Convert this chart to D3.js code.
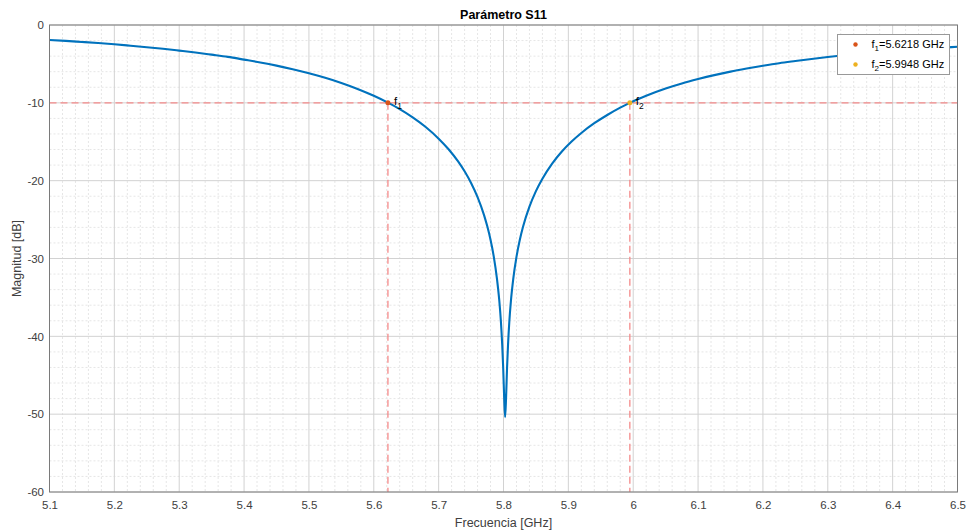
<!DOCTYPE html>
<html>
<head>
<meta charset="utf-8">
<script src="https://cdn.jsdelivr.net/npm/d3@7"></script>
<style>
body { margin: 0; background: #fff; }
svg { font-family: "Liberation Sans", Arial, sans-serif; }
</style>
</head>
<body>
<div id="graph1"></div>
<script>
// S11 magnitude (GHz, dB)
const freq = [5.100, 5.125, 5.150, 5.175, 5.200, 5.225, 5.250, 5.275, 5.300, 5.325,
	5.350, 5.375, 5.400, 5.425, 5.450, 5.475, 5.500, 5.525, 5.550, 5.575,
	5.600, 5.6218, 5.640, 5.660, 5.680, 5.700, 5.715, 5.730, 5.740, 5.750,
	5.760, 5.770, 5.775, 5.780, 5.785, 5.790, 5.7935, 5.796, 5.798, 5.7995,
	5.801, 5.8025, 5.804, 5.8055, 5.807, 5.809, 5.8115, 5.815, 5.820, 5.825,
	5.830, 5.840, 5.850, 5.860, 5.875, 5.890, 5.905, 5.920, 5.940, 5.960,
	5.980, 5.9948, 6.020, 6.050, 6.075, 6.100, 6.125, 6.150, 6.175, 6.200,
	6.225, 6.250, 6.275, 6.300, 6.325, 6.350, 6.375, 6.400, 6.425, 6.450,
	6.475, 6.500];
const s11 = [-1.92, -2.04, -2.18, -2.32, -2.48, -2.66, -2.85, -3.06, -3.29, -3.53,
	-3.81, -4.10, -4.45, -4.81, -5.22, -5.69, -6.21, -6.79, -7.45, -8.22,
	-9.10, -9.98, -10.81, -11.87, -13.11, -14.60, -15.93, -17.53, -18.80, -20.30,
	-22.11, -24.42, -25.87, -27.59, -29.75, -32.65, -35.4, -38.1, -41.06, -44.0,
	-47.8, -50.4, -47.8, -44.0, -41.06, -38.1, -35.4, -32.65, -29.8, -27.66,
	-25.96, -23.34, -21.34, -19.75, -17.81, -16.25, -14.97, -13.87, -12.62, -11.56,
	-10.62, -10.0, -9.09, -8.16, -7.51, -6.95, -6.44, -5.99, -5.60, -5.24,
	-4.91, -4.63, -4.36, -4.11, -3.89, -3.70, -3.51, -3.36, -3.20, -3.05,
	-2.92, -2.80];

// Marked -10 dB crossings
const markFreq = [5.6218, 5.9948];
const markLevel = -10;
const markNames = ["1", "2"];
const markColors = ["#D95319", "#EDB120"];

// Axes ticks
const xTicks = [5.1, 5.2, 5.3, 5.4, 5.5, 5.6, 5.7, 5.8, 5.9, 6.0, 6.1, 6.2, 6.3, 6.4, 6.5];
const xTickLabels = ["5.1", "5.2", "5.3", "5.4", "5.5", "5.6", "5.7", "5.8", "5.9", "6", "6.1", "6.2", "6.3", "6.4", "6.5"];
const yTicks = [0, -10, -20, -30, -40, -50, -60];
const yTickLabels = ["0", "-10", "-20", "-30", "-40", "-50", "-60"];

const width = 968, height = 531;
const margin = {top: 25, right: 10.5, bottom: 39, left: 49.5};
let plot_w = width - margin.left - margin.right;
let plot_h = height - margin.top - margin.bottom;

let svg = d3.select("#graph1")
	.append("svg")
	.attr("width", width)
	.attr("height", height)
	.append("g")
	.attr("transform", "translate(" + margin.left + "," + margin.top + ")");

let x = d3.scaleLinear().domain([5.1, 6.5]).range([0, plot_w]);
let y = d3.scaleLinear().domain([-60, 0]).range([plot_h, 0]);

// Minor grid
let minorX = d3.range(5.1, 6.5001, 0.02).filter(function(v) {return Math.abs(Math.round(v * 10) - v * 10) > 0.01});
let minorY = d3.range(-60, 0.001, 2).filter(function(v) {return v % 10 != 0});

svg.append("g").selectAll("line").data(minorX).enter().append("line")
	.attr("x1", function(d) {return x(d)}).attr("x2", function(d) {return x(d)})
	.attr("y1", 0).attr("y2", plot_h)
	.attr("stroke", "#e6e6e6").attr("stroke-dasharray", "2,2");

svg.append("g").selectAll("line").data(minorY).enter().append("line")
	.attr("y1", function(d) {return y(d)}).attr("y2", function(d) {return y(d)})
	.attr("x1", 0).attr("x2", plot_w)
	.attr("stroke", "#e6e6e6").attr("stroke-dasharray", "2,2");

// Major grid
svg.append("g").selectAll("line").data(xTicks).enter().append("line")
	.attr("x1", function(d) {return x(d)}).attr("x2", function(d) {return x(d)})
	.attr("y1", 0).attr("y2", plot_h)
	.attr("stroke", "#d2d2d2");

svg.append("g").selectAll("line").data(yTicks).enter().append("line")
	.attr("y1", function(d) {return y(d)}).attr("y2", function(d) {return y(d)})
	.attr("x1", 0).attr("x2", plot_w)
	.attr("stroke", "#d2d2d2");

// Red dashed guides
svg.append("line")
	.attr("x1", 0).attr("x2", plot_w)
	.attr("y1", y(markLevel)).attr("y2", y(markLevel))
	.attr("stroke", "#f48a8a").attr("stroke-width", 1.3).attr("stroke-dasharray", "7,4");

svg.append("g").selectAll("line").data(markFreq).enter().append("line")
	.attr("x1", function(d) {return x(d)}).attr("x2", function(d) {return x(d)})
	.attr("y1", y(markLevel)).attr("y2", plot_h)
	.attr("stroke", "#f48a8a").attr("stroke-width", 1.3).attr("stroke-dasharray", "7,4");

// S11 curve
svg.append("clipPath").attr("id", "clip")
	.append("rect").attr("width", plot_w).attr("height", plot_h);

let line = d3.line()
	.x(function(d, i) {return x(freq[i])})
	.y(function(d) {return y(d)})
	.curve(d3.curveMonotoneX);

svg.append("path")
	.datum(s11)
	.attr("clip-path", "url(#clip)")
	.attr("fill", "none")
	.attr("stroke", "#0072BD")
	.attr("stroke-width", 2.1)
	.attr("stroke-linejoin", "round")
	.attr("d", line);

// Markers and their labels
svg.append("g").selectAll("circle").data(markFreq).enter().append("circle")
	.attr("cx", function(d) {return x(d)})
	.attr("cy", y(markLevel))
	.attr("r", 2.5)
	.attr("fill", function(d, i) {return markColors[i]});

markFreq.forEach(function(f, i) {
	let t = svg.append("text")
		.attr("x", x(f) + 6)
		.attr("y", y(markLevel) + 2)
		.style("font-size", "11.5px")
		.attr("fill", "#000");
	t.append("tspan").text("f");
	t.append("tspan").attr("dy", 4).style("font-size", "8.5px").text(markNames[i]);
});

// Axes
svg.append("g")
	.attr("transform", "translate(0," + plot_h + ")")
	.call(d3.axisBottom(x).tickValues(xTicks).tickSize(0).tickPadding(9)
		.tickFormat(function(d, i) {return xTickLabels[i]}))
	.call(function(g) {g.select(".domain").remove()})
	.selectAll("text").style("font-size", "11.5px").attr("fill", "#404040");

svg.append("g")
	.call(d3.axisLeft(y).tickValues(yTicks).tickSize(0).tickPadding(5.5)
		.tickFormat(function(d, i) {return yTickLabels[i]}))
	.call(function(g) {g.select(".domain").remove()})
	.selectAll("text").style("font-size", "11.5px").attr("fill", "#404040");

// Frame
svg.append("rect")
	.attr("width", plot_w).attr("height", plot_h)
	.attr("fill", "none").attr("stroke", "#7a7a7a").attr("stroke-width", 1);

// Legend
let legend = svg.append("g").attr("transform", "translate(" + (837.5 - margin.left) + "," + (34.5 - margin.top) + ")");
legend.append("rect")
	.attr("width", 112).attr("height", 40)
	.attr("fill", "#fff").attr("stroke", "#999");

markFreq.forEach(function(f, i) {
	legend.append("circle")
		.attr("cx", 18).attr("cy", 10 + i * 20)
		.attr("r", 2.2).attr("fill", markColors[i]);
	let t = legend.append("text")
		.attr("x", 34).attr("y", 13.5 + i * 20)
		.style("font-size", "11px").attr("fill", "#000");
	t.append("tspan").text("f");
	t.append("tspan").attr("dy", 3).style("font-size", "8px").text(markNames[i]);
	t.append("tspan").attr("dy", -3).text("=" + f.toFixed(4) + " GHz");
});

// Title
svg.append("text")
	.attr("x", plot_w / 2).attr("y", -6)
	.style("text-anchor", "middle")
	.style("font-size", "12.5px")
	.style("font-weight", "bold")
	.attr("fill", "#000")
	.text("Parámetro S11");

// Axis labels
svg.append("text")
	.attr("x", plot_w / 2).attr("y", plot_h + 35)
	.style("text-anchor", "middle")
	.style("font-size", "12.5px")
	.attr("fill", "#404040")
	.text("Frecuencia [GHz]");

svg.append("text")
	.attr("transform", "translate(" + (21 - margin.left) + "," + (plot_h / 2) + ")rotate(-90)")
	.style("text-anchor", "middle")
	.style("font-size", "12.5px")
	.attr("fill", "#404040")
	.text("Magnitud [dB]");
</script>
</body>
</html>
